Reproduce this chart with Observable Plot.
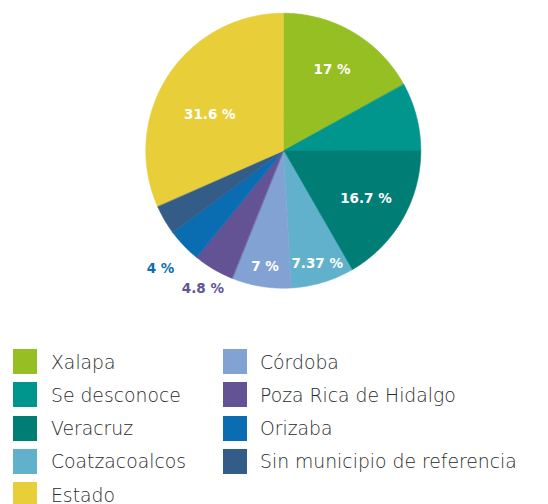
<!DOCTYPE html>
<html>
<head>
<meta charset="utf-8">
<script src="https://cdn.jsdelivr.net/npm/d3@7"></script>
<script src="https://cdn.jsdelivr.net/npm/@observablehq/plot@0.6"></script>
<style>
  html, body { margin: 0; padding: 0; background: #ffffff; }
  #chart { width: 548px; }
  #legend { position: relative; width: 548px; height: 164px; font-family: "DejaVu Sans", sans-serif; }
  .sw { position: absolute; width: 24px; height: 25px; }
  .lt { position: absolute; font-size: 18.8px; line-height: 25px; font-weight: 200; color: #2a2a2a; white-space: nowrap; }
</style>
</head>
<body>
<div id="chart"></div>
<div id="legend"></div>
<script>
// Slice order (clockwise from 12 o'clock)
const categories = ["Xalapa", "Se desconoce", "Veracruz", "Coatzacoalcos", "Córdoba", "Poza Rica de Hidalgo", "Orizaba", "Sin municipio de referencia", "Estado"];
const values = [17, 8, 16.7, 7.37, 7, 4.8, 4, 3.53, 31.6];
const labelShown = [true, false, true, true, true, true, true, false, true];
const colors = ["#95bf23", "#00968e", "#007e76", "#62b1cc", "#83a2d4", "#645394", "#0a6db1", "#345c88", "#e8cf3a"];
// Legend order (column by column)
const legendOrder = ["Xalapa", "Se desconoce", "Veracruz", "Coatzacoalcos", "Estado", "Córdoba", "Poza Rica de Hidalgo", "Orizaba", "Sin municipio de referencia"];

const W = 548, H = 340, CX = 283.3, CY = 150.7, R = 137.5;

const rows = categories.map((name, i) => ({name, value: values[i], shown: labelShown[i]}));
const arcs = d3.pie().sort(null).value(d => d.value)(rows);

// Arc outline points for each slice (unit radius, y up)
const pts = [];
for (const a of arcs) {
  const n = Math.max(2, Math.ceil((a.endAngle - a.startAngle) / (Math.PI / 360)));
  for (let k = 0; k <= n; k++) {
    const t = a.startAngle + (a.endAngle - a.startAngle) * k / n;
    pts.push({name: a.data.name, x: Math.sin(t), y: Math.cos(t)});
  }
}

const labels = arcs.filter(a => a.data.shown).map(a => {
  let mid = (a.startAngle + a.endAngle) / 2;
  const v = a.data.value;
  let r;
  if (v >= 25) { r = 0.6; mid -= 0.12; }
  else if (v >= 10) r = 0.69;
  else if (v >= 5) r = 0.85;
  else r = v >= 4.5 ? 1.16 : 1.24;
  return {name: a.data.name, inside: v >= 5, text: `${v} %`, x: r * Math.sin(mid), y: r * Math.cos(mid)};
});

const chart = Plot.plot({
  width: W,
  height: H,
  margin: 0,
  x: {domain: [-CX / R, (W - CX) / R], axis: null},
  y: {domain: [-(H - CY) / R, CY / R], axis: null},
  color: {domain: categories, range: colors},
  style: {fontFamily: "DejaVu Sans, sans-serif", background: "#ffffff"},
  marks: [
    Plot.area(pts, {x1: "x", y1: "y", x2: 0, y2: 0, z: "name", fill: "name", stroke: "name", strokeWidth: 0.6}),
    Plot.text(labels.filter(d => d.inside), {x: "x", y: "y", text: "text", fill: "white", fontSize: 13.5, fontWeight: "bold"}),
    Plot.text(labels.filter(d => !d.inside), {x: "x", y: "y", text: "text", fill: "name", fontSize: 13.5, fontWeight: "bold"})
  ]
});
document.getElementById("chart").appendChild(chart);

// Legend
const legend = document.getElementById("legend");
const colorOf = Object.fromEntries(categories.map((c, i) => [c, colors[i]]));
legendOrder.forEach((name, i) => {
  const col = i < 5 ? 0 : 1;
  const row = i < 5 ? i : i - 5;
  const top = 9 + row * 33.3;
  const sw = document.createElement("div");
  sw.className = "sw";
  sw.style.left = (col === 0 ? 13 : 223) + "px";
  sw.style.top = top + "px";
  sw.style.background = colorOf[name];
  const lt = document.createElement("div");
  lt.className = "lt";
  lt.style.left = (col === 0 ? 51 : 260) + "px";
  lt.style.top = (top + 0.5) + "px";
  lt.textContent = name;
  legend.appendChild(sw);
  legend.appendChild(lt);
});
</script>
</body>
</html>
